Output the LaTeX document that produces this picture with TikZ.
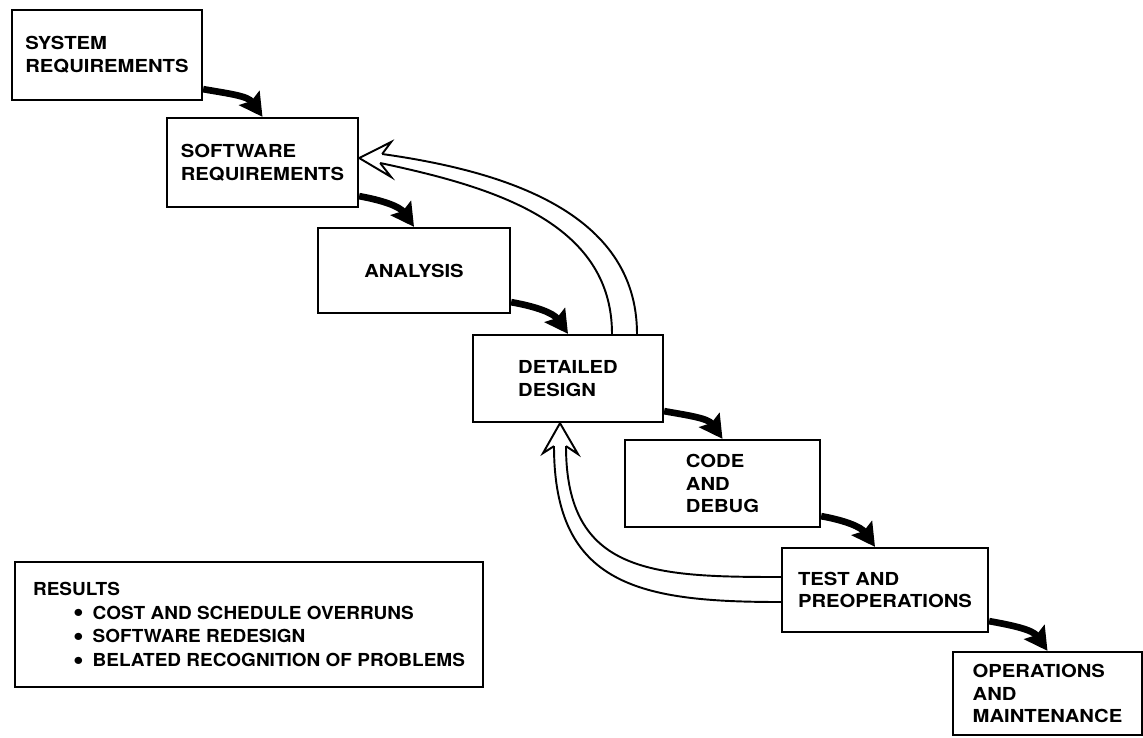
\documentclass[tikz,border=0pt]{standalone}
\usepackage{fontspec}
\setmainfont{TeX Gyre Heros}[FakeStretch=1.13]
\newfontfamily\resfont{TeX Gyre Heros}[FakeStretch=1.06]
\newcommand{\resdot}{\hspace*{0.8cm}\smash{\raisebox{-1.3pt}{\scalebox{1.6}{\textbullet}}}\hspace{0.18cm}}
\usetikzlibrary{arrows.meta}

\begin{document}
\begin{tikzpicture}[stage/.style={draw, line width=1.3pt, rectangle, align=left, inner sep=0pt,
                        font=\fontsize{10.2}{13}\selectfont\bfseries},
                    flow/.style={line width=3.8pt, -{Stealth[length=13pt,width=14pt,inset=2pt]}},
                    hollow/.style={line width=1.1pt, line join=miter}]
                \useasboundingbox (0,0) rectangle (22.86,-14.74);

                \node[stage, minimum width=3.80cm, minimum height=1.80cm] (1) at (2.14,-1.10) {SYSTEM\\REQUIREMENTS};
                \node[stage, minimum width=3.82cm, minimum height=1.78cm] (2) at (5.25,-3.25) {SOFTWARE\\REQUIREMENTS};
                \node[stage, minimum width=3.84cm, minimum height=1.70cm] (3) at (8.28,-5.41) {ANALYSIS};
                \node[stage, minimum width=3.80cm, minimum height=1.74cm] (4) at (11.36,-7.57) {DETAILED\\DESIGN};
                \node[stage, minimum width=3.90cm, minimum height=1.74cm] (5) at (14.45,-9.67) {CODE\\AND\\DEBUG};
                \node[stage, minimum width=4.12cm, minimum height=1.68cm] (6) at (17.70,-11.80) {TEST AND\\PREOPERATIONS};
                \node[stage, minimum width=3.78cm, minimum height=1.66cm] (7) at (20.95,-13.87) {OPERATIONS\\AND\\MAINTENANCE};

                \node[stage, minimum width=9.36cm, minimum height=2.50cm,
                      font=\fontsize{10.2}{13.6}\selectfont\resfont\bfseries] (r) at (4.98,-12.49)
                    {RESULTS\\
                     \resdot COST AND SCHEDULE OVERRUNS\\
                     \resdot SOFTWARE REDESIGN\\
                     \resdot BELATED RECOGNITION OF PROBLEMS};

                \draw[flow] ([yshift=0.24cm]1.south east) to[out=-10,in=125] (2.north);
                \draw[flow] ([yshift=0.24cm]2.south east) to[out=-10,in=125] (3.north);
                \draw[flow] ([yshift=0.24cm]3.south east) to[out=-10,in=125] (4.north);
                \draw[flow] ([yshift=0.24cm]4.south east) to[out=-10,in=125] (5.north);
                \draw[flow] ([yshift=0.24cm]5.south east) to[out=-10,in=125] ([xshift=-0.2cm]6.north);
                \draw[flow] ([yshift=0.24cm]6.south east) to[out=-10,in=125] (7.north);

                % back to software requirements
                \coordinate (t1) at ([yshift=0.09cm]2.east);
                \coordinate (n1) at ([shift={(0.46,0.08)}]t1);
                \coordinate (n2) at ([shift={(0.42,-0.10)}]t1);
                \draw[hollow] (n1) -- ([shift={(0.64,0.32)}]t1) -- (t1) -- ([shift={(0.64,-0.38)}]t1) -- (n2);
                \draw[hollow] (n1) to[out=-8,in=90] ([xshift=1.38cm]4.north);
                \draw[hollow] (n2) to[out=-12,in=90] ([xshift=0.88cm]4.north);

                % back to detailed design
                \coordinate (t2) at ([xshift=-0.16cm]4.south);
                \coordinate (n3) at ([shift={(-0.12,-0.46)}]t2);
                \coordinate (n4) at ([shift={(0.12,-0.46)}]t2);
                \draw[hollow] (n3) -- ([shift={(-0.34,-0.60)}]t2) -- (t2) -- ([shift={(0.36,-0.62)}]t2) -- (n4);
                \draw[hollow] ([yshift=-0.24cm]6.west) to[out=180,in=-90,looseness=1.3] (n3);
                \draw[hollow] ([yshift=0.26cm]6.west) to[out=180,in=-90,looseness=1.3] (n4);
            \end{tikzpicture}
\end{document}
